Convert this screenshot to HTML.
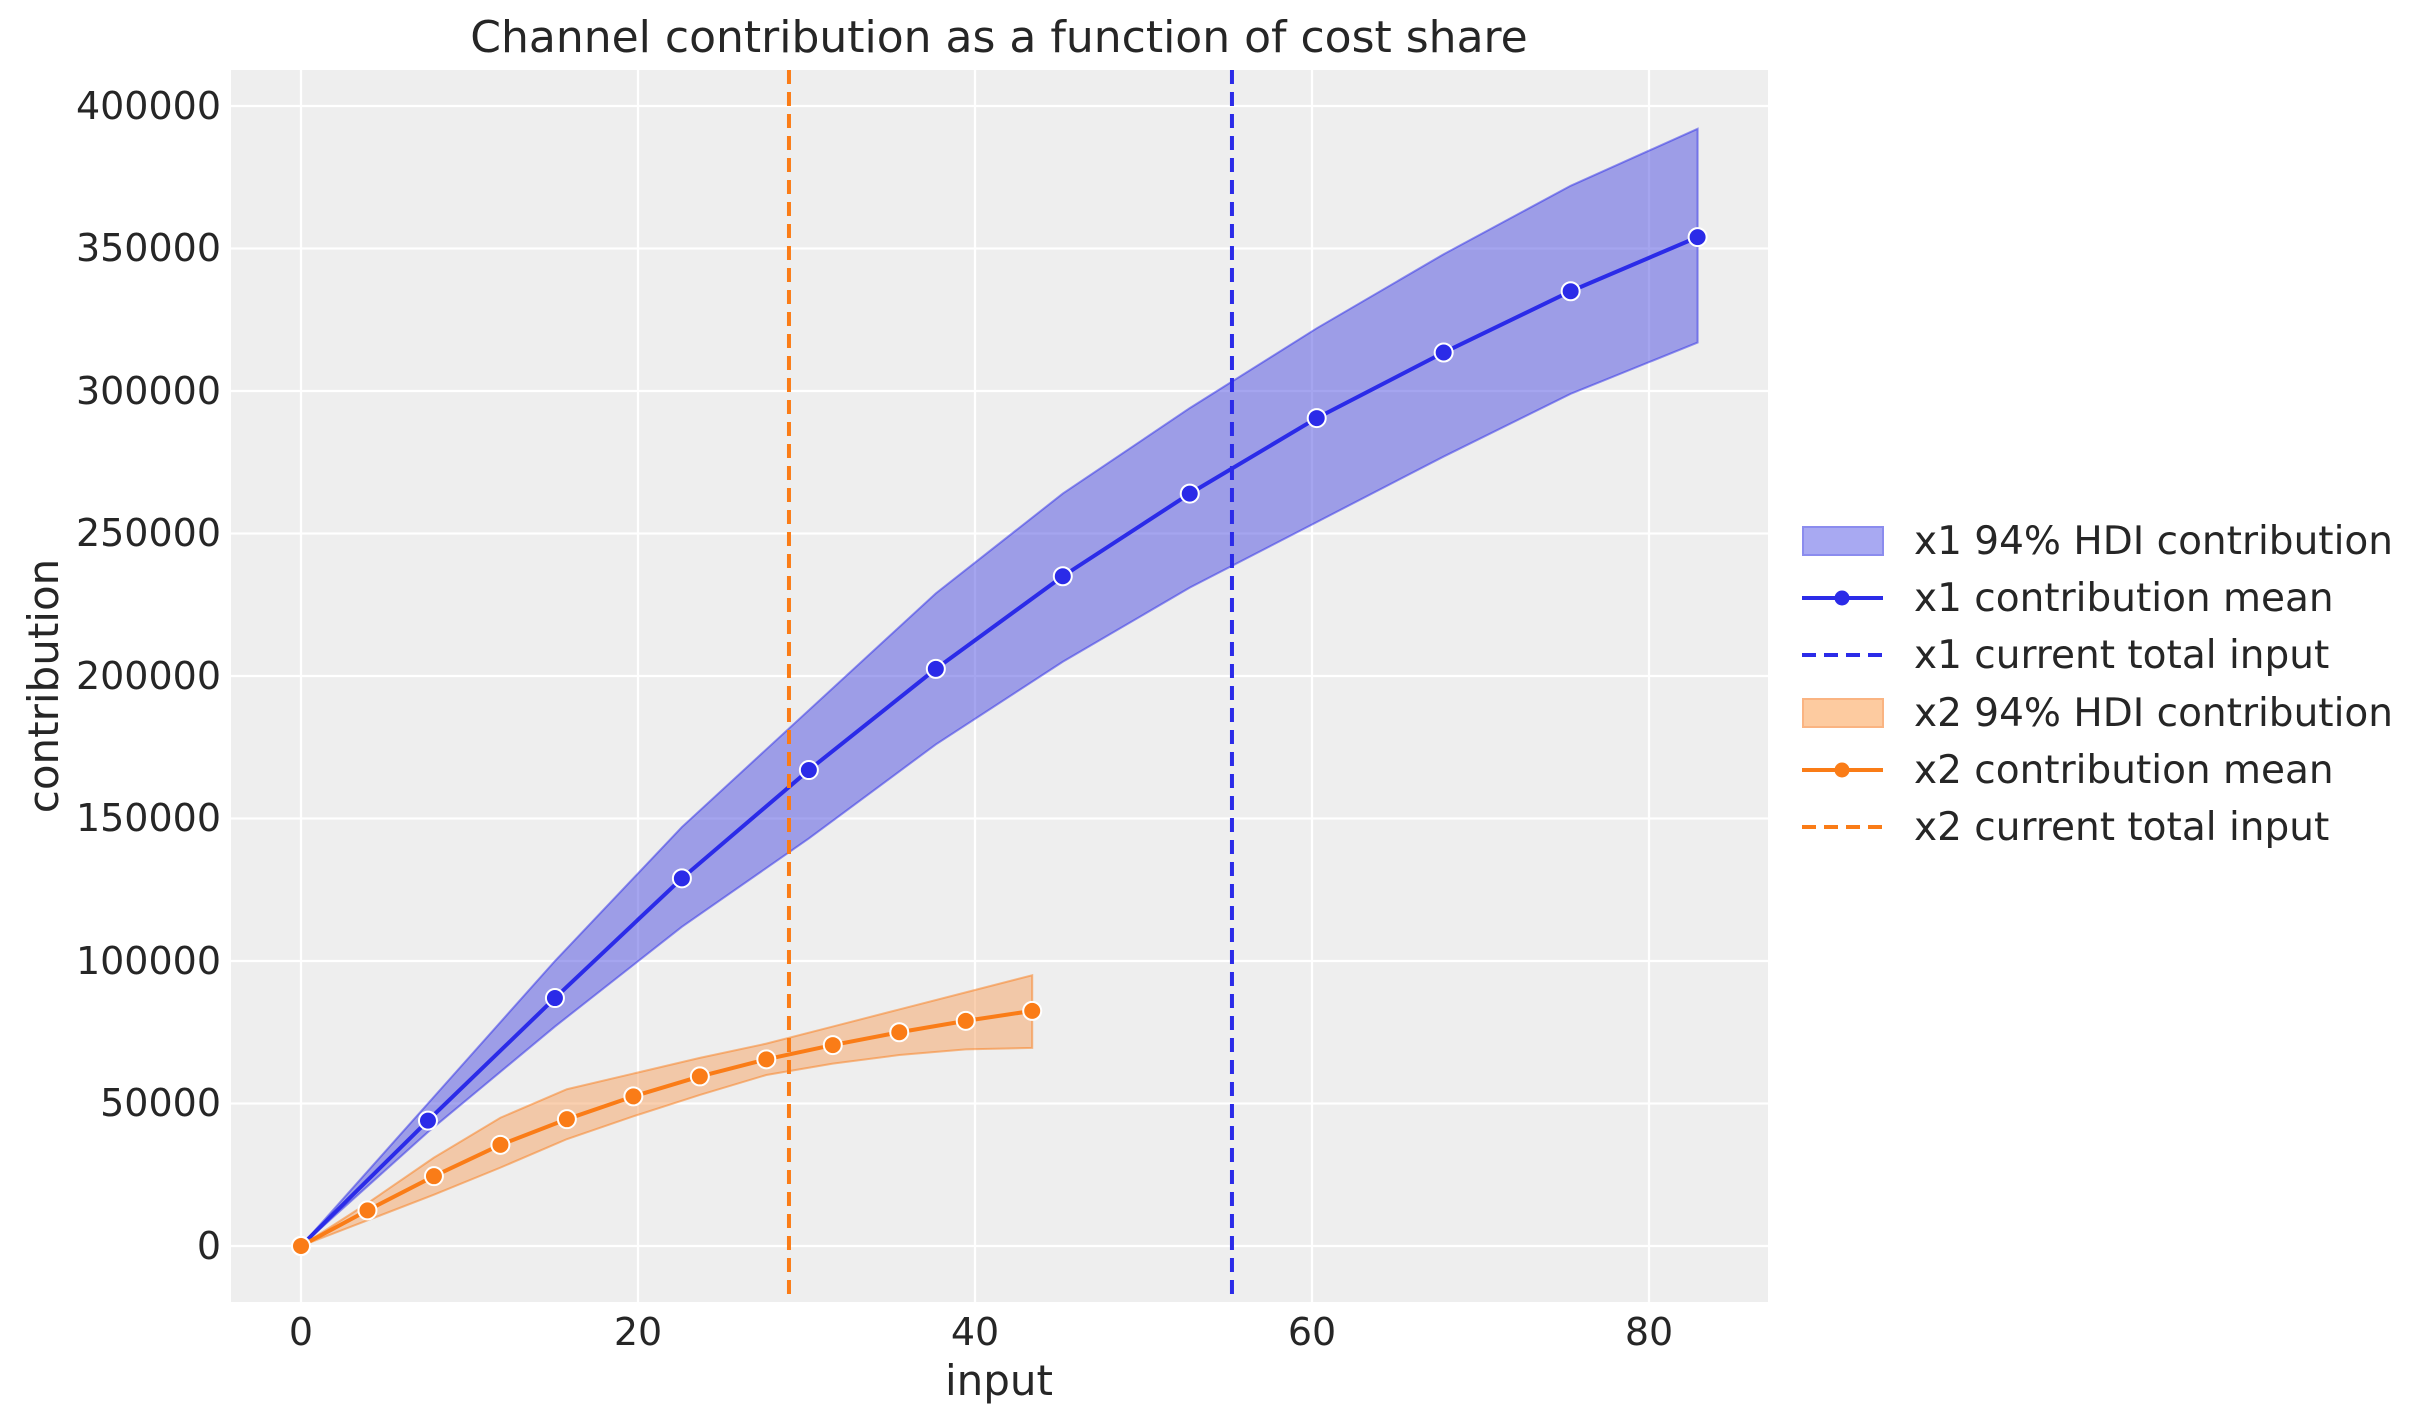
<!DOCTYPE html>
<html><head><meta charset="utf-8"><style>
html,body{margin:0;padding:0;background:#fff;}
svg{display:block;font-family:"DejaVu Sans","Liberation Sans",sans-serif;}
</style></head><body>
<svg id="s" width="2423" height="1423" viewBox="0 0 2423 1423" xmlns="http://www.w3.org/2000/svg">
<rect x="231" y="70" width="1537" height="1232" fill="#eeeeee"/>
<g id="grid" stroke="#ffffff" stroke-width="2.2"></g>
<g id="data"></g>
<g fill="#262626" font-size="38">
<text x="999" y="52" text-anchor="middle" font-size="44">Channel contribution as a function of cost share</text>
<g text-anchor="end">
<text x="221" y="1259">0</text>
<text x="221" y="1116">50000</text>
<text x="221" y="974">100000</text>
<text x="221" y="831">150000</text>
<text x="221" y="689">200000</text>
<text x="221" y="546">250000</text>
<text x="221" y="404">300000</text>
<text x="221" y="261">350000</text>
<text x="221" y="119">400000</text>
</g>
<g text-anchor="middle">
<text x="301" y="1345">0</text>
<text x="638" y="1345">20</text>
<text x="975" y="1345">40</text>
<text x="1312" y="1345">60</text>
<text x="1649" y="1345">80</text>
<text x="999" y="1395" font-size="42">input</text>
</g>
<text transform="translate(58,686) rotate(-90)" text-anchor="middle" font-size="42">contribution</text>
<g font-size="39">
<text x="1914" y="554">x1 94% HDI contribution</text>
<text x="1914" y="611">x1 contribution mean</text>
<text x="1914" y="668">x1 current total input</text>
<text x="1914" y="726">x2 94% HDI contribution</text>
<text x="1914" y="783">x2 contribution mean</text>
<text x="1914" y="840">x2 current total input</text>
</g>
</g>
<g>
<rect x="1803" y="527" width="80" height="28" fill="#a8a9f2" stroke="#8b8cee" stroke-width="2"/>
<line x1="1802" y1="598" x2="1883" y2="598" stroke="#2b2be8" stroke-width="4"/>
<circle cx="1842" cy="598" r="7.5" fill="#2b2be8"/>
<line x1="1802" y1="655" x2="1883" y2="655" stroke="#2b2be8" stroke-width="4" stroke-dasharray="14,8"/>
<rect x="1803" y="699" width="80" height="28" fill="#fdcba0" stroke="#fab482" stroke-width="2"/>
<line x1="1802" y1="770" x2="1883" y2="770" stroke="#fa7c17" stroke-width="4"/>
<circle cx="1842" cy="770" r="7.5" fill="#fa7c17"/>
<line x1="1802" y1="827" x2="1883" y2="827" stroke="#fa7c17" stroke-width="4" stroke-dasharray="14,8"/>
</g>
</svg>
<script>
(function(){
var NS="http://www.w3.org/2000/svg";
function X(v){return 301+v*16.85;}
function Y(v){return 1246-v*0.00285;}
var g=document.getElementById("grid");
function el(p,t,a){var e=document.createElementNS(NS,t);for(var k in a)e.setAttribute(k,a[k]);p.appendChild(e);return e;}
[0,20,40,60,80].forEach(function(v){el(g,"line",{x1:X(v),x2:X(v),y1:70,y2:1302});});
for(var v=0;v<=400000;v+=50000){el(g,"line",{x1:231,x2:1768,y1:Y(v),y2:Y(v)});}
var d=document.getElementById("data");
var x1=[],s1=7.535;for(var i=0;i<12;i++)x1.push(i*s1);
var m1=[0,44000,87000,129000,167000,202500,235000,264000,290500,313500,335000,354000];
var u1=[0,50000,100000,147000,188000,229000,264000,294000,322000,348000,372000,392000];
var l1=[0,40000,77000,112000,143000,176000,205000,231000,254000,277000,299000,317000];
var x2=[],s2=3.945;for(var i=0;i<12;i++)x2.push(i*s2);
var m2=[0,12500,24500,35500,44500,52500,59500,65500,70500,75000,79000,82500];
var u2=[0,15000,31000,45000,55000,60500,66000,71000,77000,83000,89000,95000];
var l2=[0,9000,18000,27500,37500,45500,53000,60000,64000,67000,69000,69500];
function band(xs,u,l,fill,stroke){
 var p="";for(var i=0;i<xs.length;i++)p+=(i?"L":"M")+X(xs[i])+","+Y(u[i]);
 for(var i=xs.length-1;i>=0;i--)p+="L"+X(xs[i])+","+Y(l[i]);
 el(d,"path",{d:p+"Z",fill:fill,"fill-opacity":0.5,stroke:stroke,"stroke-opacity":0.5,"stroke-width":2});
}
function line(xs,m,c){
 var p="";for(var i=0;i<xs.length;i++)p+=(i?"L":"M")+X(xs[i])+","+Y(m[i]);
 el(d,"path",{d:p,fill:"none",stroke:c,"stroke-width":4});
 for(var i=0;i<xs.length;i++)el(d,"circle",{cx:X(xs[i]),cy:Y(m[i]),r:9,fill:c,stroke:"#fff","stroke-width":2});
}
band(x1,u1,l1,"#4b4be0","#2b2be8");
band(x2,u2,l2,"#f5a262","#fa7c17");
line(x1,m1,"#2b2be8");
line(x2,m2,"#fa7c17");
el(d,"line",{x1:X(28.96),x2:X(28.96),y1:70,y2:1302,stroke:"#fa7c17","stroke-width":4,"stroke-dasharray":"14,8"});
el(d,"line",{x1:X(55.25),x2:X(55.25),y1:70,y2:1302,stroke:"#2b2be8","stroke-width":4,"stroke-dasharray":"14,8"});
})();
</script>
</body></html>
